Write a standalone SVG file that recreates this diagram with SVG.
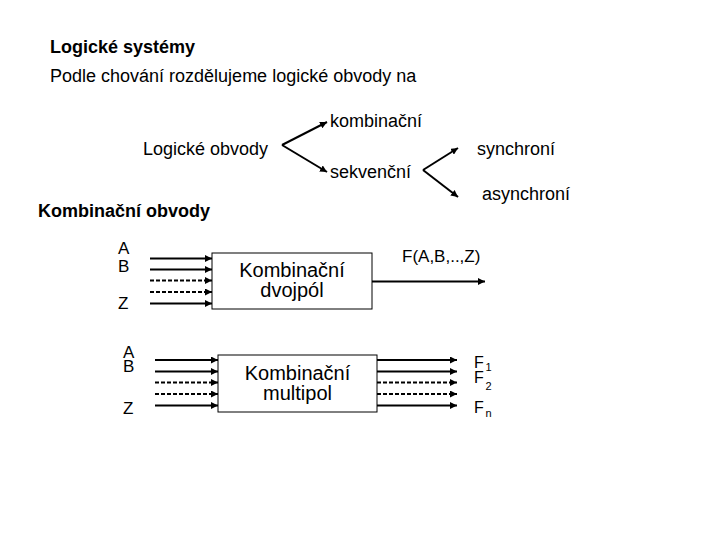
<svg xmlns="http://www.w3.org/2000/svg" width="720" height="540" viewBox="0 0 720 540">
<defs>
<style>
text{font-family:"Liberation Sans",Arial,sans-serif;fill:#000}
.t{font-size:18px}
.b{font-size:18px;font-weight:bold}
.l{font-size:17px}
.fa{font-size:17px}
.bx{font-size:20px;text-anchor:middle}
.f{font-size:16px}
.s{font-size:11px}
.ln{stroke:#000;stroke-width:2;fill:none;marker-end:url(#ah)}
.d{stroke-dasharray:4 2}
.box{fill:#fff;stroke:#000;stroke-width:1}
</style>
<marker id="ah" markerUnits="userSpaceOnUse" markerWidth="7" markerHeight="7" refX="7" refY="3.5" orient="auto">
<path d="M0,0 L7,3.5 L0,7 z" fill="#000"/>
</marker>
</defs>
<rect width="720" height="540" fill="#fff"/>
<g id="texts">
<text class="b" x="50" y="53">Logické systémy</text>
<text class="t" x="50" y="82">Podle chování rozdělujeme logické obvody na</text>
<text class="b" x="38" y="217">Kombinační obvody</text>
</g>
<g id="node-logicke-obvody"><text class="t" x="143" y="155">Logické obvody</text></g>
<g id="node-kombinacni"><text class="t" x="330" y="127">kombinační</text></g>
<g id="node-sekvencni"><text class="t" x="330" y="178">sekvenční</text></g>
<g id="node-synchroni"><text class="t" x="477" y="155">synchroní</text></g>
<g id="node-asynchroni"><text class="t" x="482" y="200">asynchroní</text></g>
<g id="inputs1">
<text class="l" x="118" y="254">A</text>
<text class="l" x="118" y="272">B</text>
<text class="l" x="118" y="309">Z</text>
</g>
<g id="node-dvojpol">
<rect class="box" x="212" y="253" width="160" height="56"/>
<text class="bx" x="292" y="277">Kombinační</text>
<text class="bx" x="292" y="297">dvojpól</text>
</g>
<g id="output1"><text class="fa" x="402" y="262">F(A,B,..,Z)</text></g>
<g id="inputs2">
<text class="l" x="123" y="358">A</text>
<text class="l" x="123" y="372">B</text>
<text class="l" x="123" y="414">Z</text>
</g>
<g id="node-multipol">
<rect class="box" x="218" y="355" width="159" height="57"/>
<text class="bx" x="297.5" y="380">Kombinační</text>
<text class="bx" x="297.5" y="400">multipol</text>
</g>
<g id="outputs2">
<text class="f" x="474" y="368">F</text><text class="s" x="485.5" y="371">1</text>
<text class="f" x="474" y="383">F</text><text class="s" x="485.5" y="390">2</text>
<text class="f" x="474" y="413">F</text><text class="s" x="485.5" y="417">n</text>
</g>
<g id="connectors">
<line class="ln" x1="282" y1="145" x2="327" y2="122"/>
<line class="ln" x1="282" y1="145" x2="327" y2="172"/>
<line class="ln" x1="423" y1="170" x2="458" y2="148"/>
<line class="ln" x1="423" y1="170" x2="458" y2="197"/>
<line class="ln" x1="150" y1="258.5" x2="212" y2="258.5"/>
<line class="ln" x1="150" y1="269.5" x2="212" y2="269.5"/>
<line class="ln d" x1="150" y1="280.5" x2="212" y2="280.5"/>
<line class="ln d" x1="150" y1="292" x2="212" y2="292"/>
<line class="ln" x1="150" y1="303.5" x2="212" y2="303.5"/>
<line class="ln" x1="372" y1="281.5" x2="485" y2="281.5"/>
<line class="ln" x1="155" y1="360" x2="218" y2="360"/>
<line class="ln" x1="155" y1="371.5" x2="218" y2="371.5"/>
<line class="ln d" x1="155" y1="382.5" x2="218" y2="382.5"/>
<line class="ln d" x1="155" y1="394" x2="218" y2="394"/>
<line class="ln" x1="155" y1="405.5" x2="218" y2="405.5"/>
<line class="ln" x1="377" y1="360" x2="457" y2="360"/>
<line class="ln" x1="377" y1="371.5" x2="457" y2="371.5"/>
<line class="ln d" x1="377" y1="382.5" x2="457" y2="382.5"/>
<line class="ln d" x1="377" y1="394" x2="457" y2="394"/>
<line class="ln" x1="377" y1="405.5" x2="457" y2="405.5"/>
</g>
</svg>
